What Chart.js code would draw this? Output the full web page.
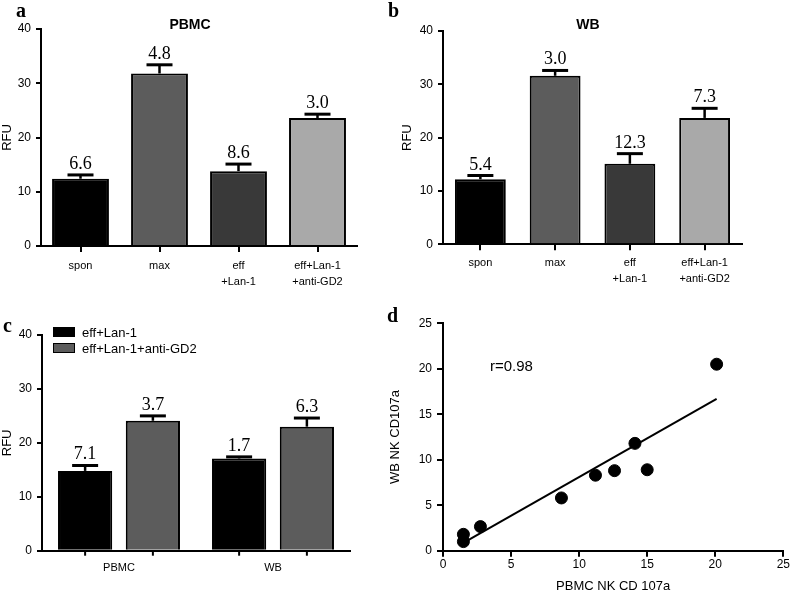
<!DOCTYPE html>
<html>
<head>
<meta charset="utf-8">
<script src="https://cdn.jsdelivr.net/npm/chart.js@4.4.0/dist/chart.umd.min.js"></script>
<style>
  body { margin: 0; background: #fff; width: 791px; height: 600px; position: relative; overflow: hidden; font-family: "Liberation Sans", Arial, sans-serif; }
  canvas { position: absolute; }
  .txt { position: absolute; line-height: 1; white-space: nowrap; color: #000; }
  .panel { font-family: "Liberation Serif", serif; font-weight: bold; font-size: 20px; }
  .title { font-weight: bold; font-size: 14px; transform: translateX(-50%); }
  .legend-item { position: absolute; left: 53px; height: 16px; display: flex; align-items: center; font-size: 13px; }
  .legend-item span { display: inline-block; width: 20px; height: 8px; border: 1.5px solid #000; margin-right: 7px; }
</style>
</head>
<body>
<canvas id="chartA" width="395" height="300" style="left:0;top:0"></canvas>
<canvas id="chartB" width="396" height="300" style="left:395px;top:0"></canvas>
<canvas id="chartC" width="395" height="300" style="left:0;top:300px"></canvas>
<canvas id="chartD" width="403" height="300" style="left:388px;top:300px"></canvas>

<div class="txt panel" style="left:16px;top:0">a</div>
<div class="txt panel" style="left:388px;top:0">b</div>
<div class="txt panel" style="left:3px;top:315px">c</div>
<div class="txt panel" style="left:387px;top:305px">d</div>
<div class="txt title" style="left:190px;top:17px">PBMC</div>
<div class="txt title" style="left:588px;top:17px">WB</div>
<div class="txt" style="left:490px;top:358px;font-size:15px">r=0.98</div>
<div id="legendC"></div>

<script>
// panels a and b
var categories = [['spon'], ['max'], ['eff', '+Lan-1'], ['eff+Lan-1', '+anti-GD2']];
var barColors = ['#000000', '#5c5c5c', '#393939', '#a9a9a9'];

var pbmcValues = [12.4, 31.8, 13.8, 23.6];
var pbmcErrors = [0.7, 1.6, 1.3, 0.7];
var pbmcNotes = ['6.6', '4.8', '8.6', '3.0'];

var wbValues = [12.2, 31.6, 15.1, 23.7];
var wbErrors = [0.7, 1.0, 1.9, 1.8];
var wbNotes = ['5.4', '3.0', '12.3', '7.3'];

// panel c
var groupLabels = ['PBMC', 'WB'];
var seriesNames = ['eff+Lan-1', 'eff+Lan-1+anti-GD2'];
var seriesColors = ['#000000', '#5c5c5c'];
var lanValues = [14.8, 17.1];
var lanErrors = [1.0, 0.3];
var lanNotes = ['7.1', '1.7'];
var gd2Values = [24.1, 23.0];
var gd2Errors = [0.9, 1.6];
var gd2Notes = ['3.7', '6.3'];

// panel d
var pbmcNK = [1.5, 1.5, 2.75, 8.7, 11.2, 12.6, 14.1, 15.0, 20.1];
var wbNK = [1.8, 1.0, 2.65, 5.8, 8.3, 8.8, 11.8, 8.9, 20.5];
var fitX = [1.3, 20.1];
var fitY = [0.7, 16.7];

var sans = '"Liberation Sans", Arial, sans-serif';

// draws the upward error bars and the numbers above them
var errorBarPlugin = {
  id: 'errorBars',
  afterDatasetsDraw: function(chart, args, opts) {
    var ctx = chart.ctx;
    var yScale = chart.scales.y;
    chart.data.datasets.forEach(function(ds, di) {
      var meta = chart.getDatasetMeta(di);
      meta.data.forEach(function(bar, i) {
        var yTop = yScale.getPixelForValue(ds.data[i] + ds.errors[i]);
        ctx.save();
        ctx.strokeStyle = '#000';
        ctx.lineWidth = 2.5;
        ctx.beginPath();
        ctx.moveTo(bar.x, bar.y);
        ctx.lineTo(bar.x, yTop);
        ctx.stroke();
        ctx.lineWidth = 3;
        ctx.beginPath();
        ctx.moveTo(bar.x - opts.cap / 2, yTop);
        ctx.lineTo(bar.x + opts.cap / 2, yTop);
        ctx.stroke();
        if (opts.ticks) {
          ctx.lineWidth = 2;
          ctx.beginPath();
          ctx.moveTo(bar.x, yScale.bottom);
          ctx.lineTo(bar.x, yScale.bottom + 5);
          ctx.stroke();
        }
        ctx.fillStyle = '#000';
        ctx.font = '18px "Liberation Serif", serif';
        ctx.textAlign = 'center';
        ctx.textBaseline = 'alphabetic';
        ctx.fillText(ds.notes[i], bar.x, yTop - 6);
        ctx.restore();
      });
    });
  }
};

function yAxis(width, titlePad) {
  return {
    min: 0, max: 40,
    ticks: { stepSize: 10, color: '#000', font: { size: 12, family: sans }, padding: 5 },
    grid: { drawOnChartArea: false, color: '#000', lineWidth: 2, tickLength: 5 },
    border: { color: '#000', width: 2 },
    title: { display: true, text: 'RFU', color: '#000', font: { size: 13, family: sans }, padding: { top: titlePad, bottom: 0 } },
    afterFit: function(s) { s.width = width; }
  };
}

function barChart(id, values, errors, notes, box) {
  return new Chart(document.getElementById(id), {
    type: 'bar',
    data: {
      labels: categories,
      datasets: [{
        data: values, errors: errors, notes: notes,
        backgroundColor: barColors, borderColor: '#000', borderWidth: 2,
        barPercentage: box.bar, categoryPercentage: 1
      }]
    },
    options: {
      responsive: false,
      animation: false,
      layout: { padding: { left: 0, top: box.top, right: box.right, bottom: 0 } },
      plugins: { legend: { display: false }, tooltip: { enabled: false }, errorBars: { cap: 26 } },
      scales: {
        x: {
          grid: { drawOnChartArea: false, offset: false, color: '#000', lineWidth: 2, tickLength: 6 },
          border: { color: '#000', width: 2 },
          ticks: { color: '#000', font: { size: 11, family: sans, lineHeight: 1.45 }, padding: box.lp, maxRotation: 0, autoSkip: false },
          afterFit: function(s) { s.height = box.xh; }
        },
        y: yAxis(box.left, box.titlePad)
      }
    },
    plugins: [errorBarPlugin]
  });
}

barChart('chartA', pbmcValues, pbmcErrors, pbmcNotes, { left: 41, top: 29, right: 38, xh: 54, bar: 0.72, titlePad: 0, lp: 6 });
barChart('chartB', wbValues, wbErrors, wbNotes, { left: 48, top: 31, right: 49, xh: 55.7, bar: 0.68, titlePad: 5, lp: 5 });

new Chart(document.getElementById('chartC'), {
  type: 'bar',
  data: {
    labels: groupLabels,
    datasets: [
      { label: seriesNames[0], data: lanValues, errors: lanErrors, notes: lanNotes, backgroundColor: seriesColors[0], borderColor: '#000', borderWidth: 2, barPercentage: 0.8, categoryPercentage: 0.88 },
      { label: seriesNames[1], data: gd2Values, errors: gd2Errors, notes: gd2Notes, backgroundColor: seriesColors[1], borderColor: '#000', borderWidth: 2, barPercentage: 0.8, categoryPercentage: 0.88 }
    ]
  },
  options: {
    responsive: false,
    animation: false,
    layout: { padding: { left: 0, top: 35, right: 45, bottom: 0 } },
    plugins: { legend: { display: false }, tooltip: { enabled: false }, errorBars: { cap: 26, ticks: true } },
    scales: {
      x: {
        grid: { display: false },
        border: { color: '#000', width: 2 },
        ticks: { color: '#000', font: { size: 11, family: sans }, padding: 3, maxRotation: 0 },
        afterFit: function(s) { s.height = 49.3; }
      },
      y: yAxis(42, 0)
    }
  },
  plugins: [errorBarPlugin]
});

// legend for panel c, built from the series names
var legendC = document.getElementById('legendC');
seriesNames.forEach(function(name, i) {
  var item = document.createElement('div');
  item.className = 'legend-item';
  item.style.top = (324 + i * 16) + 'px';
  item.innerHTML = '<span style="background:' + seriesColors[i] + '"></span>' + name;
  legendC.appendChild(item);
});

function linAxis(size, title, titlePad, tickPad) {
  return {
    type: 'linear', min: 0, max: 25,
    ticks: { stepSize: 5, color: '#000', font: { size: 12, family: sans }, padding: tickPad },
    grid: { drawOnChartArea: false, color: '#000', lineWidth: 2, tickLength: 6 },
    border: { color: '#000', width: 2 },
    title: { display: true, text: title, color: '#000', font: { size: 13, family: sans }, padding: titlePad },
    afterFit: function(s) { if (s.isHorizontal()) { s.height = size; } else { s.width = size; } }
  };
}

new Chart(document.getElementById('chartD'), {
  type: 'scatter',
  data: {
    datasets: [
      {
        data: pbmcNK.map(function(x, i) { return { x: x, y: wbNK[i] }; }),
        backgroundColor: '#000', borderColor: '#000', pointRadius: 6, pointHoverRadius: 6
      },
      {
        type: 'line',
        data: fitX.map(function(x, i) { return { x: x, y: fitY[i] }; }),
        borderColor: '#000', borderWidth: 2, pointRadius: 0, fill: false
      }
    ]
  },
  options: {
    responsive: false,
    animation: false,
    layout: { padding: { left: 0, top: 23.3, right: 6, bottom: 0 } },
    plugins: { legend: { display: false }, tooltip: { enabled: false } },
    scales: {
      x: linAxis(49.3, 'PBMC NK CD 107a', { top: 0, bottom: 6 }, 1),
      y: linAxis(55, 'WB NK CD107a', { top: 0, bottom: 0 }, 5)
    }
  }
});
</script>
</body>
</html>
